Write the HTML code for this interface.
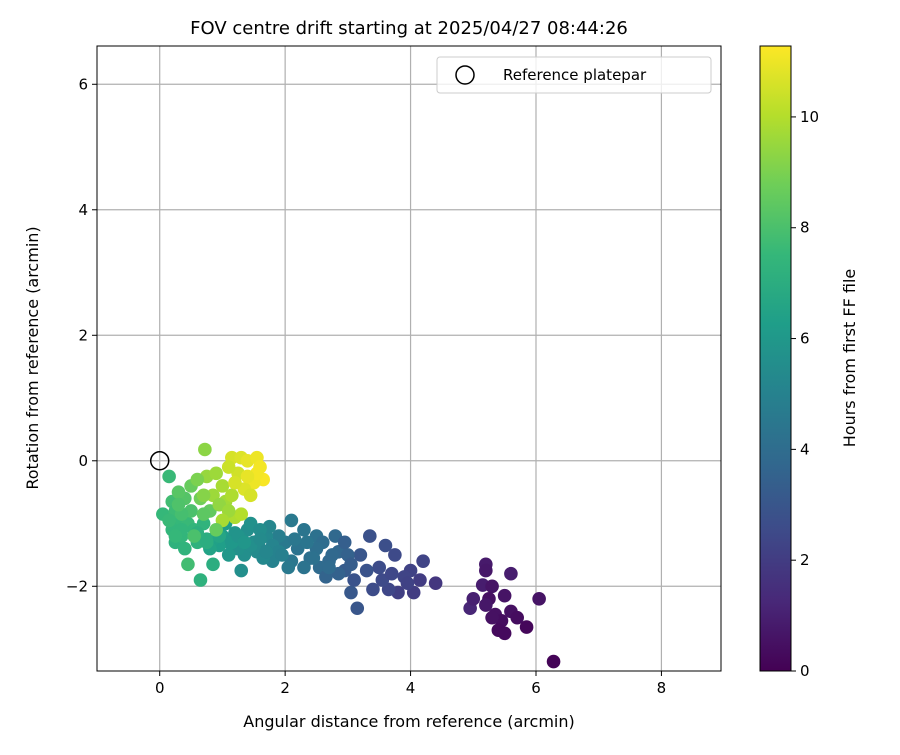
<!DOCTYPE html>
<html><head><meta charset="utf-8"><style>body{margin:0;background:#fff}svg text{font-family:"DejaVu Sans","Liberation Sans",sans-serif}</style></head>
<body>
<svg id="c" width="900" height="750" xmlns="http://www.w3.org/2000/svg"></svg>
<script>
const xTicks=[0,2,4,6,8];
const yTicks=[-2,0,2,4,6];
const cTicks=[0,2,4,6,8,10];
const ptX=[5.2,5.2,5.15,5.3,5.25,5.2,4.95,5.0,5.35,5.45,5.4,5.5,5.6,5.7,5.85,6.05,6.28,5.5,5.6,5.3,
3.35,3.6,3.75,4.2,4.4,4.15,4.0,3.9,3.8,4.05,3.65,3.55,3.4,3.5,3.3,3.2,3.1,3.15,3.05,2.95,3.7,3.95,
2.1,2.3,2.5,2.6,2.8,2.85,3.0,2.7,2.55,2.4,2.2,2.0,1.9,2.1,2.3,2.65,2.85,2.5,2.75,2.95,3.05,2.05,1.8,1.6,
1.0,1.1,1.2,1.3,1.4,1.5,1.55,1.7,1.75,1.8,1.65,1.35,1.3,1.25,1.1,0.95,0.85,1.45,1.6,1.9,1.05,0.8,
0.15,0.05,0.2,0.25,0.3,0.2,0.25,0.35,0.45,0.4,0.5,0.55,0.6,0.7,0.75,0.45,0.65,0.85,0.3,0.5,0.65,0.8,0.4,0.15,0.35,
0.72,0.75,0.9,1.0,0.85,1.05,1.15,0.95,1.2,1.3,1.1,0.7,0.6,1.0,
1.15,1.3,1.4,1.55,1.6,1.65,1.5,1.35,1.45,1.25,1.1,1.2,1.55,1.4,
1.15,1.25,1.45,1.6,1.7,1.35,0.95,0.75,0.6,0.35,0.25,0.55,0.3,0.7,0.9,2.35,2.15,2.45,2.7,1.95];
const ptY=[-1.65,-1.75,-1.98,-2.0,-2.2,-2.3,-2.35,-2.2,-2.45,-2.55,-2.7,-2.75,-2.4,-2.5,-2.65,-2.2,-3.2,-2.15,-1.8,-2.5,
-1.2,-1.35,-1.5,-1.6,-1.95,-1.9,-1.75,-1.85,-2.1,-2.1,-2.05,-1.9,-2.05,-1.7,-1.75,-1.5,-1.9,-2.35,-2.1,-1.75,-1.8,-1.95,
-0.95,-1.1,-1.2,-1.3,-1.2,-1.45,-1.5,-1.6,-1.7,-1.55,-1.4,-1.3,-1.2,-1.6,-1.7,-1.85,-1.8,-1.4,-1.5,-1.3,-1.65,-1.7,-1.6,-1.4,
-1.2,-1.3,-1.15,-1.25,-1.1,-1.3,-1.45,-1.2,-1.05,-1.35,-1.55,-1.5,-1.75,-1.4,-1.5,-1.35,-1.25,-1.0,-1.1,-1.45,-1.0,-1.4,
-0.25,-0.85,-0.65,-0.8,-1.0,-1.1,-1.3,-1.2,-1.0,-0.6,-0.8,-1.1,-1.3,-1.0,-1.25,-1.65,-1.9,-1.65,-0.5,-0.4,-0.6,-0.8,-1.4,-0.95,-0.85,
0.18,-0.25,-0.2,-0.4,-0.55,-0.65,-0.55,-0.7,-0.9,-0.85,-0.8,-0.55,-0.3,-0.95,
0.05,0.05,0.0,0.05,-0.1,-0.3,-0.35,-0.45,-0.55,-0.2,-0.1,-0.35,-0.2,-0.25,
-1.3,-1.2,-1.35,-1.25,-1.45,-1.3,-1.2,-1.3,-1.15,-1.1,-1.2,-1.2,-0.7,-0.85,-1.1,-1.3,-1.25,-1.55,-1.7,-1.5];
const ptH=[0.8,0.7,0.9,0.6,0.5,0.7,1.2,1.0,0.5,0.4,0.3,0.3,0.5,0.4,0.2,0.6,0.1,0.6,0.9,0.5,
2.8,2.7,2.5,2.3,1.8,2.0,2.2,2.3,2.1,2.0,2.4,2.5,2.6,2.6,2.9,3.0,2.9,3.0,3.1,3.2,2.4,2.2,
4.6,4.4,4.2,4.0,3.8,3.7,3.5,3.8,3.9,4.1,4.3,4.6,4.8,4.5,4.3,3.6,3.5,4.1,3.8,3.4,3.3,4.6,5.0,5.2,
6.2,6.0,5.8,5.7,5.6,5.5,5.4,5.3,5.2,5.1,5.3,5.6,5.6,5.7,6.0,6.3,6.4,5.7,5.5,5.0,6.2,6.5,
7.6,7.5,7.8,7.7,7.5,7.4,7.2,7.4,7.6,8.2,8.0,7.4,7.2,7.3,7.0,7.8,7.2,7.0,8.3,8.6,8.8,8.5,7.3,7.6,7.9,
9.3,9.5,9.6,9.8,9.6,9.7,9.9,9.4,9.9,10.0,9.6,9.2,9.0,9.8,
10.6,10.7,10.9,11.0,11.1,11.2,11.0,10.7,10.6,10.5,10.4,10.6,11.1,10.9,
6.0,5.8,5.6,5.4,5.2,5.9,6.6,7.0,7.1,7.4,7.5,8.0,8.1,8.4,8.6,4.4,4.5,4.2,3.9,4.9];
const svg=document.getElementById('c'),NS='http://www.w3.org/2000/svg';
const L=97,R=721,T=46,B=671,xmin=-1,xmax=8.95,ymin=-3.35,ymax=6.61,cmax=11.28;
const sx=v=>L+(v-xmin)/(xmax-xmin)*(R-L),sy=v=>B-(v-ymin)/(ymax-ymin)*(B-T),sc=v=>671-v/cmax*625;
function mk(t,a,p){const e=document.createElementNS(NS,t);for(const k in a)e.setAttribute(k,a[k]);(p||svg).appendChild(e);return e;}
const vir=[[68,1,84],[72,40,120],[62,74,137],[49,104,142],[38,130,142],[31,158,137],[53,183,121],[110,206,88],[181,222,43],[253,231,37]];
function col(h){let t=Math.max(0,Math.min(1,h/cmax))*9,i=Math.min(8,Math.floor(t)),f=t-i,a=vir[i],b=vir[i+1];return `rgb(${a.map((v,k)=>Math.round(v+(b[k]-v)*f)).join(',')})`;}
const g=mk('g',{});
xTicks.forEach(v=>{const l=mk('line',{x1:sx(v),x2:sx(v),y1:T,y2:B,stroke:'#b0b0b0','stroke-width':1.2},g);
const tk=mk('line',{x1:sx(v),x2:sx(v),y1:B,y2:B+5,stroke:'#000'});
const t=mk('text',{x:sx(v),y:B+22,'text-anchor':'middle','font-size':15});t.textContent=v;});
yTicks.forEach(v=>{const l=mk('line',{x1:L,x2:R,y1:sy(v),y2:sy(v),stroke:'#b0b0b0','stroke-width':1.2},g);
const tk=mk('line',{x1:L-5,x2:L,y1:sy(v),y2:sy(v),stroke:'#000'});
const t=mk('text',{x:L-9,y:sy(v)+5,'text-anchor':'end','font-size':15});t.textContent=(v<0?'\u2212'+(-v):v);});
const pg=mk('g',{});
ptX.forEach((x,i)=>{const c=mk('circle',{cx:sx(x),cy:sy(ptY[i]),r:6.8,fill:col(ptH[i])},pg);});
const ref=mk('circle',{cx:sx(0),cy:sy(0),r:9,fill:'none',stroke:'#000','stroke-width':1.5});
const fr=mk('rect',{x:L,y:T,width:R-L,height:B-T,fill:'none',stroke:'#000','stroke-width':1});
const lg=mk('g',{});
mk('rect',{x:437,y:57,width:274,height:36,rx:3,fill:'#fff',stroke:'#ccc','fill-opacity':0.8},lg);
mk('circle',{cx:465,cy:75,r:9,fill:'none',stroke:'#000','stroke-width':1.5},lg);
const lt=mk('text',{x:503,y:80,'font-size':15},lg);lt.textContent='Reference platepar';
const tt=mk('text',{x:409,y:34,'text-anchor':'middle','font-size':18});tt.textContent='FOV centre drift starting at 2025/04/27 08:44:26';
const xt=mk('text',{x:409,y:727,'text-anchor':'middle','font-size':16});xt.textContent='Angular distance from reference (arcmin)';
const yt=mk('text',{x:38,y:358,'text-anchor':'middle','font-size':16,transform:'rotate(-90 38 358)'});yt.textContent='Rotation from reference (arcmin)';
const defs=mk('defs',{});const lgd=mk('linearGradient',{id:'vg',x1:0,y1:1,x2:0,y2:0},defs);
vir.forEach((c,i)=>mk('stop',{offset:i/9,'stop-color':`rgb(${c.join(',')})`},lgd));
const cb=mk('rect',{x:760,y:46,width:31,height:625,fill:'url(#vg)',stroke:'#000','stroke-width':1});
cTicks.forEach(v=>{const tk=mk('line',{x1:791,x2:796,y1:sc(v),y2:sc(v),stroke:'#000'});
const t=mk('text',{x:800,y:sc(v)+5,'font-size':15});t.textContent=v;});
const ct=mk('text',{x:855,y:358,'text-anchor':'middle','font-size':16,transform:'rotate(-90 855 358)'});ct.textContent='Hours from first FF file';
</script>
</body></html>
